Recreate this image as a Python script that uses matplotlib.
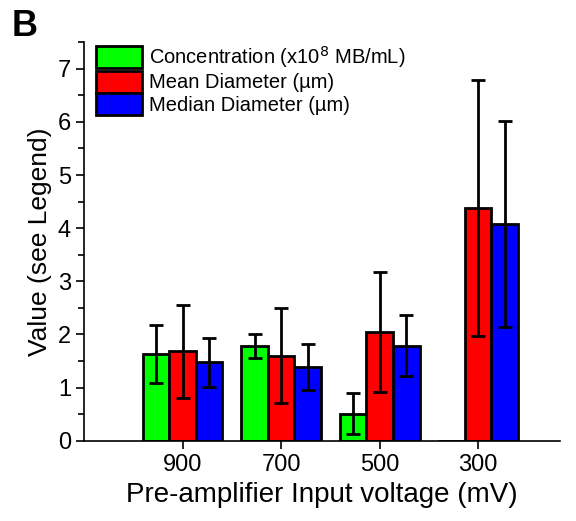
import matplotlib.pyplot as plt
import numpy as np

plt.rcParams['font.family'] = ['Liberation Sans', 'DejaVu Sans']

voltages = ['900', '700', '500', '300']
conc = [1.63, 1.78, 0.51, 0.0]
conc_err = [0.54, 0.22, 0.39, 0.0]
mean_d = [1.68, 1.60, 2.04, 4.38]
mean_err = [0.87, 0.89, 1.13, 2.40]
median_d = [1.48, 1.39, 1.79, 4.08]
median_err = [0.46, 0.44, 0.58, 1.93]

fig = plt.figure(figsize=(5.76, 5.21), dpi=100)
ax = fig.add_axes([0.146, 0.154, 0.826, 0.765])

x = np.arange(1, len(voltages) + 1)
w = 0.27
ekw = dict(elinewidth=2, capthick=2, ecolor='black')
ax.bar(x - w, conc, w, color='#00ff00', edgecolor='black', linewidth=2,
       label='Concentration (x10$^{8}$ MB/mL)')
ax.bar(x, mean_d, w, color='#ff0000', edgecolor='black', linewidth=2,
       label='Mean Diameter (µm)')
ax.bar(x + w, median_d, w, color='#0000ff', edgecolor='black', linewidth=2,
       label='Median Diameter (µm)')
for off, v, e in [(-w, conc, conc_err), (0, mean_d, mean_err), (w, median_d, median_err)]:
    for xi, vi, ei in zip(x + off, v, e):
        if ei > 0:
            ax.errorbar(xi, vi, yerr=ei, fmt='none', capsize=5, **ekw)

ax.set_xlim(0, 4.83)
ax.set_ylim(0, 7.5)
ax.set_xticks(x)
ax.set_xticklabels(voltages)
ax.set_yticks(range(0, 8))
ax.set_yticks(np.arange(0.5, 7.6, 1.0), minor=True)
ax.tick_params(axis='both', labelsize=17, width=1.2, length=6, direction='out')
ax.tick_params(axis='y', which='minor', length=4, width=1.2)
for s in ['top', 'right']:
    ax.spines[s].set_visible(False)
for s in ['left', 'bottom']:
    ax.spines[s].set_linewidth(1.2)

ax.set_xlabel('Pre-amplifier Input voltage (mV)', fontsize=20, labelpad=4)
ax.set_ylabel('Value (see Legend)', fontsize=19, labelpad=4)

ax.legend(loc='upper left', bbox_to_anchor=(0.0, 1.025), frameon=False,
          fontsize=14.5, handlelength=2.3, handleheight=1.3, labelspacing=0.02,
          handletextpad=0.3, borderaxespad=0.2)

fig.text(0.02, 0.93, 'B', fontsize=26, fontweight='bold')

fig.savefig('out.png', dpi=100)
